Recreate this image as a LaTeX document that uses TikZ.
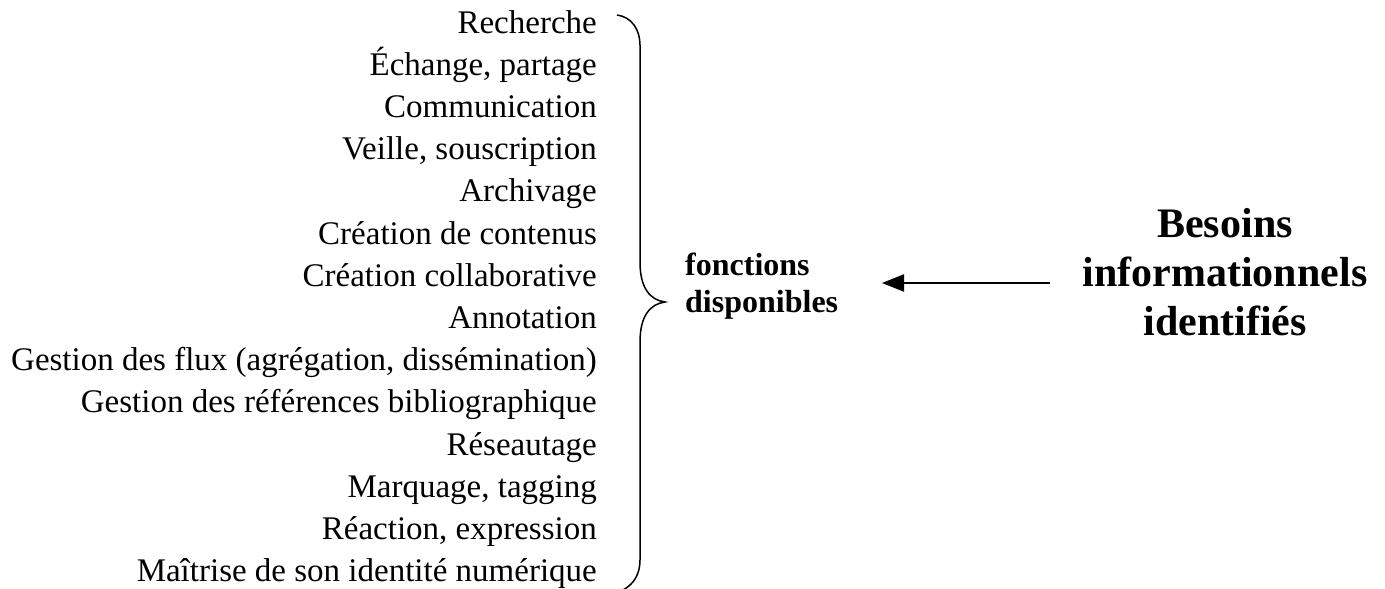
\documentclass[tikz,border=0pt]{standalone}
\usepackage{fontspec}
\setmainfont{Liberation Serif}
\usetikzlibrary{arrows.meta}
\begin{document}
\begin{tikzpicture}[x=1pt,y=-1pt,
  item/.style={anchor=base east,inner sep=0pt,font=\fontsize{33}{40}\selectfont},
  bracepath/.style={line width=1.5pt},
  arr/.style={line width=2pt,-{Triangle[length=22pt,width=17pt]}},
  mid/.style={inner sep=0pt,align=left,font=\fontsize{32}{37}\selectfont\bfseries},
  big/.style={inner sep=0pt,align=center,font=\fontsize{42}{49}\selectfont\bfseries}]
\useasboundingbox (0,0) rectangle (1385,589);
\foreach \t [count=\i] in {Recherche,{Échange, partage},Communication,{Veille, souscription},Archivage,Création de contenus,Création collaborative,Annotation,{Gestion des flux (agrégation, dissémination)},Gestion des références bibliographique,Réseautage,{Marquage, tagging},{Réaction, expression},Maîtrise de son identité numérique}
  \node[item] (l\i) at (597,{33+42.2*(\i-1)}) {\t};
\draw[bracepath] (617,15) .. controls (632,17) and (640,30) .. (640,45) -- (640,262)
  .. controls (640,288) and (650,300) .. (665,302)
  .. controls (650,304) and (640,316) .. (640,342) -- (640,560)
  .. controls (640,574) and (634,584) .. (623,590);
\coordinate (tip) at (665,302);
\node[mid,anchor=north west] (fonc) at (685,253) {fonctions\\disponibles};
\node[big,anchor=north] (besoins) at (1225,208) {Besoins\\informationnels\\identifiés};
\coordinate (astart) at (1050,283);
\coordinate (aend) at (882,283);
\draw[arr] (astart) -- (aend);
\end{tikzpicture}
\end{document}
